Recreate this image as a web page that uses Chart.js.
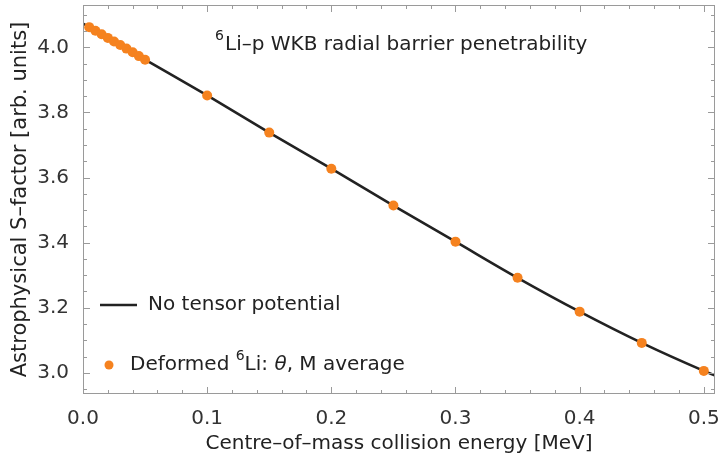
<!DOCTYPE html>
<html>
<head>
<meta charset="utf-8">
<script src="https://cdn.jsdelivr.net/npm/chart.js@4.4.0/dist/chart.umd.min.js"></script>
<style>
  html, body { margin: 0; padding: 0; background: #fff; }
  #wrap { width: 720px; height: 460px; }
</style>
</head>
<body>
<div id="wrap"><canvas id="sfactor"></canvas></div>
<script>
// energies in MeV, S-factor in arb. units
const lineEnergy = [0, 0.05, 0.1, 0.15, 0.2, 0.25, 0.3, 0.35, 0.4, 0.45, 0.5, 0.509];
const lineSfactor = [4.073, 3.962, 3.852, 3.738, 3.627, 3.514, 3.403, 3.292, 3.188, 3.092, 3.006, 2.992];
const dotEnergy = [0.005, 0.01, 0.015, 0.02, 0.025, 0.03, 0.035, 0.04, 0.045, 0.05,
                   0.1, 0.15, 0.2, 0.25, 0.3, 0.35, 0.4, 0.45, 0.5];
const dotSfactor = [4.062, 4.051, 4.040, 4.029, 4.018, 4.007, 3.996, 3.985, 3.973, 3.962,
                    3.852, 3.738, 3.627, 3.514, 3.403, 3.292, 3.188, 3.092, 3.006];
const xTickLabels = [0, 0.1, 0.2, 0.3, 0.4, 0.5];
const yTickLabels = [3.0, 3.2, 3.4, 3.6, 3.8, 4.0];
const seriesNames = ['No tensor potential', 'Deformed ⁶Li: θ, M average'];

const FONT = "'DejaVu Sans', sans-serif";
const ORANGE = '#f5821f';
const INK = '#222222';
const FS = 20;

function pts(xs, ys) { return xs.map((x, i) => ({ x: x, y: ys[i] })); }

// inward ticks on all four sides + frame
const frameTicks = {
  id: 'frameTicks',
  afterDraw(chart) {
    const c = chart.ctx, a = chart.chartArea;
    const xs = chart.scales.x, ys = chart.scales.y;
    c.save();
    c.strokeStyle = '#9a9a9a';
    c.lineWidth = 1;
    c.strokeRect(a.left + 0.5, a.top + 0.5, a.right - a.left - 1, a.bottom - a.top - 1);
    c.beginPath();
    for (let i = 0; i <= 25; i++) {
      const v = i * 0.02;
      const len = (i % 5 === 0) ? 7 : 4;
      const px = Math.round(xs.getPixelForValue(v)) + 0.5;
      c.moveTo(px, a.bottom); c.lineTo(px, a.bottom - len);
      c.moveTo(px, a.top); c.lineTo(px, a.top + len);
    }
    for (let i = 0; i <= 24; i++) {
      const v = 2.95 + i * 0.05;
      const major = Math.abs(Math.round(v * 5) - v * 5) < 1e-6;
      const len = major ? 7 : 4;
      const py = Math.round(ys.getPixelForValue(v)) + 0.5;
      if (py < a.top || py > a.bottom) continue;
      c.moveTo(a.left, py); c.lineTo(a.left + len, py);
      c.moveTo(a.right, py); c.lineTo(a.right - len, py);
    }
    c.stroke();
    c.restore();
  }
};

const annotations = {
  id: 'annotations',
  afterDraw(chart) {
    const c = chart.ctx;
    c.save();
    c.fillStyle = INK;
    c.textBaseline = 'middle';
    // title inside the plot
    c.font = '14px ' + FONT;
    c.fillText('6', 215, 36);
    c.font = FS + 'px ' + FONT;
    c.fillText('Li–p WKB radial barrier penetrability', 225, 45);

    // legend
    c.strokeStyle = INK;
    c.lineWidth = 2.6;
    c.beginPath(); c.moveTo(100, 305); c.lineTo(137, 305); c.stroke();
    c.font = FS + 'px ' + FONT;
    c.fillText(seriesNames[0], 148, 305);

    c.fillStyle = ORANGE;
    c.beginPath(); c.arc(109, 365, 4.5, 0, Math.PI * 2); c.fill();
    c.fillStyle = INK;
    let x = 130;
    c.font = FS + 'px ' + FONT;
    c.fillText('Deformed ', x, 365);
    x += c.measureText('Deformed ').width;
    c.font = '14px ' + FONT;
    c.fillText('6', x, 356);
    x += c.measureText('6').width;
    c.font = FS + 'px ' + FONT;
    c.fillText('Li: ', x, 365);
    x += c.measureText('Li: ').width;
    c.font = 'italic ' + FS + 'px ' + FONT;
    c.fillText('θ', x, 365);
    x += c.measureText('θ').width;
    c.font = FS + 'px ' + FONT;
    c.fillText(', M average', x, 365);
    c.restore();
  }
};

new Chart(document.getElementById('sfactor'), {
  type: 'scatter',
  data: {
    datasets: [
      {
        label: seriesNames[1],
        data: pts(dotEnergy, dotSfactor),
        backgroundColor: ORANGE,
        borderColor: ORANGE,
        pointRadius: 5,
        pointBorderWidth: 0,
        order: 0
      },
      {
        label: seriesNames[0],
        data: pts(lineEnergy, lineSfactor),
        showLine: true,
        borderColor: INK,
        borderWidth: 2.6,
        pointRadius: 0,
        cubicInterpolationMode: 'monotone',
        order: 1
      }
    ]
  },
  options: {
    responsive: true,
    maintainAspectRatio: false,
    animation: false,
    layout: { padding: { top: 3, right: 4, left: 0, bottom: 0 } },
    plugins: { legend: { display: false }, tooltip: { enabled: false } },
    scales: {
      x: {
        type: 'linear',
        min: 0,
        max: 0.509,
        grid: { display: false },
        border: { display: false },
        afterBuildTicks: s => { s.ticks = xTickLabels.map(v => ({ value: v })); },
        afterFit: s => { s.height = 66; s.paddingLeft = 0; s.paddingRight = 0; },
        ticks: {
          color: '#333',
          font: { family: FONT, size: FS },
          padding: 5,
          maxRotation: 0,
          callback: v => v.toFixed(1)
        },
        title: {
          display: true,
          text: 'Centre–of–mass collision energy [MeV]',
          color: INK,
          font: { family: FONT, size: FS },
          padding: { top: 4 }
        }
      },
      y: {
        type: 'linear',
        min: 2.935,
        max: 4.13,
        grid: { display: false },
        border: { display: false },
        afterBuildTicks: s => { s.ticks = yTickLabels.map(v => ({ value: v })); },
        afterFit: s => { s.width = 83; s.paddingTop = 0; s.paddingBottom = 0; },
        ticks: {
          color: '#333',
          font: { family: FONT, size: FS },
          padding: 6,
          callback: v => v.toFixed(1)
        },
        title: {
          display: true,
          text: 'Astrophysical S–factor [arb. units]',
          color: INK,
          font: { family: FONT, size: 21 },
          padding: { top: 8, bottom: 2 }
        }
      }
    }
  },
  plugins: [frameTicks, annotations]
});
</script>
</body>
</html>
